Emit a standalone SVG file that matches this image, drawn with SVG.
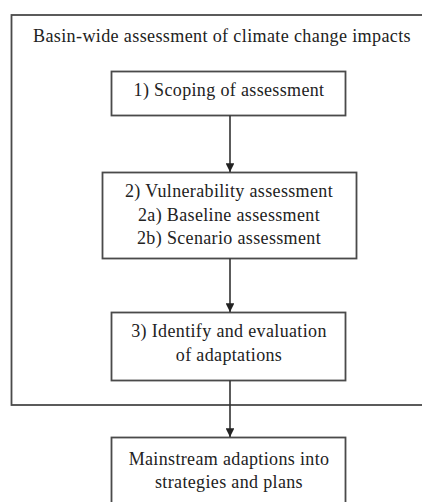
<svg xmlns="http://www.w3.org/2000/svg" width="422" height="502" viewBox="0 0 422 502">
<defs>
<style>
.box{fill:#fff;stroke:#4a4a4a;stroke-width:1.8}
.t{font-family:"Liberation Serif","DejaVu Serif",serif;font-size:18px;letter-spacing:0.35px;fill:#222;text-anchor:middle}
.c{stroke:#333;stroke-width:1.6;fill:none}
</style>
<marker id="ah" viewBox="0 0 10 10" refX="10" refY="5" markerWidth="5.5" markerHeight="5.5" markerUnits="strokeWidth" orient="auto">
<path d="M0,0 L10,5 L0,10 z" fill="#222"/>
</marker>
</defs>
<rect width="422" height="502" fill="#fff"/>
<g id="basin">
<rect class="box" x="11.5" y="15" width="420" height="390"/>
<text class="t" x="222" y="42" textLength="378" lengthAdjust="spacingAndGlyphs">Basin-wide assessment of climate change impacts</text>
</g>
<g id="scoping">
<rect class="box" x="111.5" y="71.5" width="234" height="44"/>
<text class="t" x="229" y="96">1) Scoping of assessment</text>
</g>
<g id="vulnerability">
<rect class="box" x="102.5" y="172.5" width="254" height="86"/>
<text class="t" x="229" y="197">2) Vulnerability assessment</text>
<text class="t" x="229" y="220.5">2a) Baseline assessment</text>
<text class="t" x="229" y="244">2b) Scenario assessment</text>
</g>
<g id="adaptations">
<rect class="box" x="111.5" y="312.5" width="234" height="68"/>
<text class="t" x="229" y="337">3) Identify and evaluation</text>
<text class="t" x="229" y="360.5">of adaptations</text>
</g>
<g id="mainstream">
<rect class="box" x="111.5" y="437.5" width="234" height="80"/>
<text class="t" x="229" y="465">Mainstream adaptions into</text>
<text class="t" x="229" y="488">strategies and plans</text>
</g>
<g id="connectors">
<line class="c" x1="230" y1="115.5" x2="230" y2="172" marker-end="url(#ah)"/>
<line class="c" x1="230" y1="258.5" x2="230" y2="312" marker-end="url(#ah)"/>
<line class="c" x1="230" y1="380.5" x2="230" y2="437" marker-end="url(#ah)"/>
</g>
</svg>
